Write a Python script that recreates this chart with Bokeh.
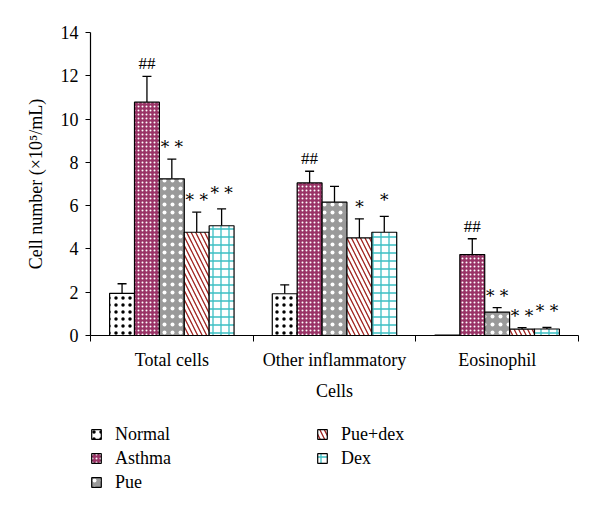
from bokeh.plotting import figure
from bokeh.layouts import column
from bokeh.models import ColumnDataSource, FixedTicker, Whisker, TeeHead, Legend, LegendItem
from bokeh.embed import file_html
from bokeh.resources import INLINE
from bokeh.core.properties import value

categories = ["Total cells", "Other inflammatory", "Eosinophil"]
groups = ["Normal", "Asthma", "Pue", "Pue+dex", "Dex"]

normal = [1.95, 1.93, 0.02]
normal_err = [0.44, 0.41, 0.0]
asthma = [10.78, 7.05, 3.74]
asthma_err = [1.19, 0.54, 0.73]
pue = [7.24, 6.16, 1.08]
pue_err = [0.91, 0.73, 0.21]
puedex = [4.77, 4.51, 0.29]
puedex_err = [0.93, 0.88, 0.07]
dex = [5.07, 4.77, 0.30]
dex_err = [0.78, 0.73, 0.07]

normal_sig = ["", "", ""]
asthma_sig = ["##", "##", "##"]
pue_sig = ["* *", "", "* *"]
puedex_sig = ["* *", "*", "* *"]
dex_sig = ["* *", "*", "* *"]

y_ticks = [0, 2, 4, 6, 8, 10, 12, 14]

series = [
    (normal, normal_err, normal_sig),
    (asthma, asthma_err, asthma_sig),
    (pue, pue_err, pue_sig),
    (puedex, puedex_err, puedex_sig),
    (dex, dex_err, dex_sig),
]

styles = [
    dict(fill_color="white", hatch_pattern="dot", hatch_color="black", hatch_scale=7, hatch_weight=0.1),
    dict(fill_color="#993366", hatch_pattern="dot", hatch_color="white", hatch_scale=4, hatch_weight=0.9),
    dict(fill_color="#9a9a9a", hatch_pattern="dot", hatch_color="white", hatch_scale=8, hatch_weight=2.6),
    dict(fill_color="white", hatch_pattern="left_diagonal_line", hatch_color="#a0221f", hatch_scale=9, hatch_weight=1.3),
    dict(fill_color="white", hatch_pattern="cross", hatch_color="#3cbfc4", hatch_scale=8, hatch_weight=1.3),
]
SERIF = "Liberation Serif"
sig_font = [SERIF, SERIF, "DejaVu Serif", "DejaVu Serif", "DejaVu Serif"]
sig_size = ["17px", "17px", "17px", "17px", "17px"]
sig_offset = [-3, -3, -2, -2, -6]

bar_w = 0.153

p = figure(width=600, height=415, x_range=(0, 3), y_range=(0, 14),
           output_backend="svg", toolbar_location=None,
           min_border_left=90, min_border_right=22, min_border_top=32, min_border_bottom=80)
p.outline_line_color = None
p.xgrid.visible = False
p.ygrid.visible = False
p.background_fill_color = "white"

centers = [i + 0.5 for i in range(len(categories))]

for k, (g, (vals, errs, sig), st) in enumerate(zip(groups, series, styles)):
    off = (k - (len(groups) - 1) / 2) * bar_w
    xs = [c + off for c in centers]
    hi = [v + e for v, e in zip(vals, errs)]
    src = ColumnDataSource(dict(x=xs, top=vals, hi=hi, err=errs, sig=sig))
    p.vbar(x="x", top="top", width=bar_w, source=src, line_color="black", line_width=1.2, **st)
    esrc = ColumnDataSource(dict(
        x=[x for x, e in zip(xs, errs) if e > 0],
        top=[v for v, e in zip(vals, errs) if e > 0],
        hi=[h for h, e in zip(hi, errs) if e > 0]))
    w = Whisker(base="x", lower="top", upper="hi", source=esrc, dimension="height",
                line_color="black", line_width=1.3,
                upper_head=TeeHead(size=9, line_color="black", line_width=1.3),
                lower_head=None)
    p.add_layout(w)
    p.text(x="x", y="hi", text="sig", source=src, text_align="center", text_baseline="bottom",
           y_offset=sig_offset[k], text_font=value(sig_font[k]), text_font_size=sig_size[k],
           text_color="black")

xa = p.xaxis[0]
xa.ticker = FixedTicker(ticks=centers, minor_ticks=[0, 1, 2, 3])
xa.major_label_overrides = {c: lab for c, lab in zip(centers, categories)}
xa.major_tick_in = 0
xa.major_tick_out = 0
xa.minor_tick_in = 0
xa.minor_tick_out = 6
xa.minor_tick_line_color = "black"
xa.axis_line_color = "black"
xa.axis_line_width = 1.2
xa.major_label_text_font = SERIF
xa.major_label_text_font_size = "18px"
xa.major_label_text_color = "black"
xa.major_label_standoff = 8
xa.axis_label = "Cells"
xa.axis_label_text_font = SERIF
xa.axis_label_text_font_size = "18px"
xa.axis_label_text_font_style = "normal"
xa.axis_label_text_color = "black"
xa.axis_label_standoff = 8

ya = p.yaxis[0]
ya.ticker = FixedTicker(ticks=y_ticks, minor_ticks=[])
ya.major_tick_in = 0
ya.major_tick_out = 5
ya.major_tick_line_color = "black"
ya.axis_line_color = "black"
ya.axis_line_width = 1.2
ya.major_label_text_font = SERIF
ya.major_label_text_font_size = "18px"
ya.major_label_text_color = "black"
ya.major_label_standoff = 7
ya.axis_label = "Cell number (×10⁵/mL)"
ya.axis_label_text_font = SERIF
ya.axis_label_text_font_size = "18px"
ya.axis_label_text_font_style = "normal"
ya.axis_label_text_color = "black"
ya.axis_label_standoff = 12

# legend figure
p2 = figure(width=600, height=100, output_backend="svg", toolbar_location=None,
            x_axis_type=None, y_axis_type=None, x_range=(0, 1), y_range=(0, 1),
            min_border=0)
p2.outline_line_color = None
p2.background_fill_color = "white"
items = []
for g, st in zip(groups, styles):
    r = p2.vbar(x=[-10], top=[-10], width=0.1, line_color="black", line_width=1.2, **st)
    items.append(LegendItem(label=g, renderers=[r]))
legend = Legend(items=items, location=(0, 21), orientation="vertical", nrows=3,
                glyph_width=12, glyph_height=12, label_standoff=13, label_width=201,
                label_height=24, spacing=0, padding=0, margin=0,
                label_text_font=SERIF, label_text_font_size="18px", label_text_color="black",
                border_line_color=None, background_fill_alpha=0)
p2.add_layout(legend, "center")

layout = column(p, p2, spacing=0)
open("out.html", "w").write(file_html(layout, INLINE))
